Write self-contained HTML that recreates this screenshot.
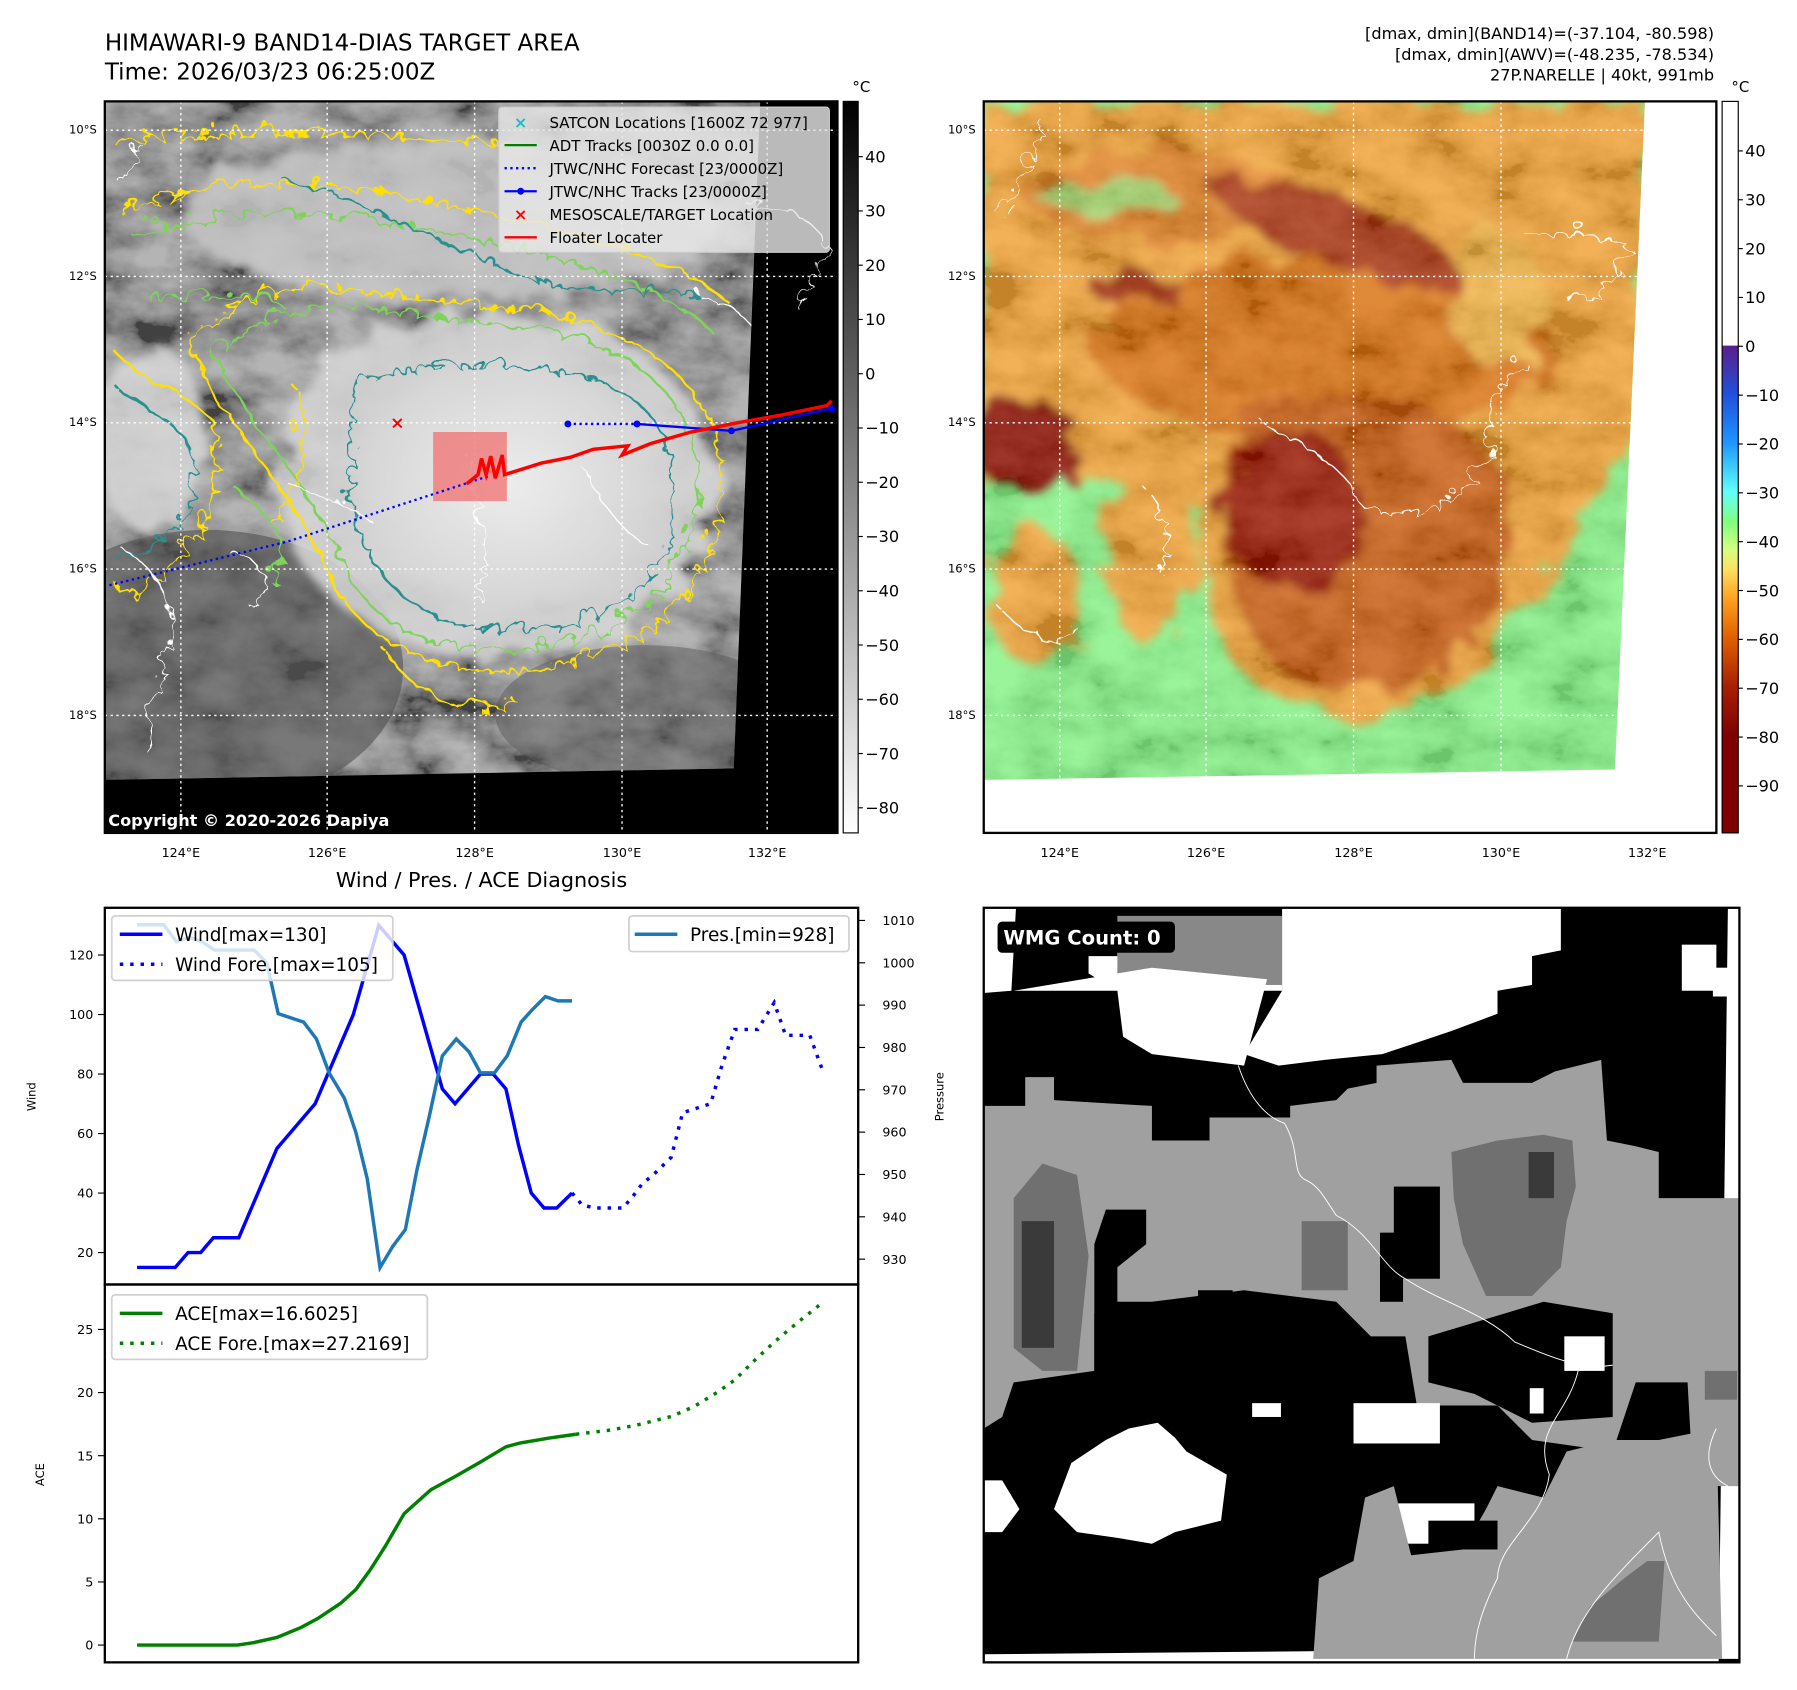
<!DOCTYPE html>
<html><head><meta charset="utf-8"><style>
html,body{margin:0;padding:0;background:#fff;}
svg{display:block;font-family:"DejaVu Sans","Liberation Sans",sans-serif;}
</style></head><body>
<svg id="fig" width="1797" height="1690" viewBox="0 0 1560 1467" preserveAspectRatio="none" xmlns="http://www.w3.org/2000/svg">
<defs>
 <filter id="noise" x="0" y="0" width="100%" height="100%">
  <feTurbulence type="fractalNoise" baseFrequency="0.018 0.03" numOctaves="5" seed="3"/>
  <feColorMatrix type="matrix" values="2 0 0 0 -0.5  2 0 0 0 -0.5  2 0 0 0 -0.5  0 0 0 0 1"/>
 </filter>
 <filter id="wob" x="-10%" y="-10%" width="120%" height="120%">
  <feTurbulence type="turbulence" baseFrequency="0.05" numOctaves="2" seed="7" result="t"/>
  <feDisplacementMap in="SourceGraphic" in2="t" scale="22"/>
 </filter>
 <filter id="blurwob" x="-10%" y="-10%" width="120%" height="120%">
  <feTurbulence type="fractalNoise" baseFrequency="0.03" numOctaves="3" seed="11" result="t"/>
  <feDisplacementMap in="SourceGraphic" in2="t" scale="40" result="d"/>
  <feGaussianBlur in="d" stdDeviation="4"/>
 </filter>
 <linearGradient id="cbGray" x1="0" y1="0" x2="0" y2="1">
  <stop offset="0" stop-color="#000"/><stop offset="1" stop-color="#fff"/>
 </linearGradient>
 <linearGradient id="cbColor" x1="0" y1="0" x2="0" y2="1">
  <stop offset="0" stop-color="#5a1e8c"/><stop offset="0.1" stop-color="#2050dc"/>
  <stop offset="0.2" stop-color="#1e96ff"/><stop offset="0.3" stop-color="#60ffff"/>
  <stop offset="0.36" stop-color="#80ff80"/><stop offset="0.42" stop-color="#d8ff80"/>
  <stop offset="0.46" stop-color="#ffe060"/><stop offset="0.52" stop-color="#ffa020"/>
  <stop offset="0.6" stop-color="#e06000"/><stop offset="0.7" stop-color="#a82000"/>
  <stop offset="0.8" stop-color="#800000"/><stop offset="1" stop-color="#800000"/>
 </linearGradient>
 <radialGradient id="core" cx="0.5" cy="0.5" r="0.5">
  <stop offset="0" stop-color="#f0f0f0"/><stop offset="0.7" stop-color="#d8d8d8"/><stop offset="1" stop-color="#d0d0d0" stop-opacity="0"/>
 </radialGradient>
 <clipPath id="leftImg"><polygon points="91,88 660,88 637,667 91,677"/></clipPath>
 <clipPath id="rightImg"><polygon points="854,88 1428,88 1402,668 854,677"/></clipPath>
 <clipPath id="wmgClip"><rect x="854" y="788" width="656" height="655"/></clipPath>
</defs>

<text x="91" y="44" font-size="20">HIMAWARI-9 BAND14-DIAS TARGET AREA</text>
<text x="91" y="69" font-size="20">Time: 2026/03/23 06:25:00Z</text>
<g font-size="14" text-anchor="end">
 <text x="1488" y="34">[dmax, dmin](BAND14)=(-37.104, -80.598)</text>
 <text x="1488" y="52">[dmax, dmin](AWV)=(-48.235, -78.534)</text>
 <text x="1488" y="70">27P.NARELLE | 40kt, 991mb</text>
</g>

<g>
 <rect x="91" y="88" width="636" height="635" fill="#000"/>
 <g clip-path="url(#leftImg)">
  <rect x="91" y="88" width="570" height="590" fill="#777"/>
  <rect x="91" y="88" width="570" height="590" filter="url(#noise)" opacity="0.45"/>
  <ellipse cx="180" cy="580" rx="170" ry="120" fill="#505050" opacity="0.6"/>
  <ellipse cx="560" cy="620" rx="130" ry="60" fill="#5a5a5a" opacity="0.5"/>
  <g filter="url(#blurwob)" opacity="0.85">
   <ellipse cx="390" cy="190" rx="230" ry="70" fill="#c8c8c8"/>
   <ellipse cx="430" cy="420" rx="190" ry="150" fill="#d8d8d8"/>
   <ellipse cx="130" cy="380" rx="50" ry="80" fill="#d8d8d8"/>
  </g>
  <ellipse cx="440" cy="420" rx="170" ry="140" fill="url(#core)" opacity="0.9"/>
  <g fill="none" stroke-width="2" filter="url(#wob)">
   <path d="M160,290 C220,220 330,250 420,260 C540,270 620,320 620,410 C620,520 540,580 420,575 C320,570 290,520 270,470 C230,400 180,350 160,290Z" stroke="#ffe000"/>
   <path d="M180,300 C240,240 340,265 420,275 C530,285 600,330 600,410 C600,510 530,560 420,558 C330,556 300,510 285,465 C250,400 200,350 180,300Z" stroke="#7ed35a"/>
   <path d="M300,330 C360,300 440,310 500,320 C570,340 585,390 580,440 C570,520 500,545 420,540 C340,535 310,480 300,430Z" stroke="#2a8f8f"/>
   <path d="M100,180 C180,140 300,150 420,180 C520,200 600,230 630,260" stroke="#ffe000"/>
   <path d="M110,200 C200,170 300,175 420,205 C520,225 590,255 620,290" stroke="#7ed35a"/>
   <path d="M240,150 C320,170 400,220 470,240 C520,250 560,245 600,250" stroke="#2a8f8f"/>
   <path d="M95,120 C200,100 330,110 440,120" stroke="#ffe000"/>
   <path d="M95,300 C120,330 150,330 180,360 C190,420 170,470 130,500 C110,520 95,510 95,500" stroke="#ffe000"/>
   <path d="M95,330 C120,350 150,360 165,390 C165,440 140,470 95,480" stroke="#2a8f8f"/>
   <path d="M250,330 C270,360 250,420 230,450" stroke="#ffe000"/>
   <path d="M330,560 C360,610 420,620 440,600" stroke="#ffe000"/>
   <path d="M120,250 C160,260 200,240 240,260" stroke="#7ed35a"/>
   <path d="M200,420 C230,440 250,470 230,500" stroke="#7ed35a"/>
  </g>
  <g fill="none" stroke="#fff" stroke-width="1.2" filter="url(#wob)">
   <path d="M100,470 C130,490 150,510 140,560 C130,600 120,620 125,650"/>
   <path d="M190,470 C220,480 240,500 210,520"/>
   <path d="M240,410 C260,420 300,430 320,450"/>
   <path d="M400,390 C410,420 420,470 410,520"/>
   <path d="M500,400 C520,440 540,460 560,470"/>
   <path d="M600,250 C640,260 650,280 660,300"/>
   <path d="M95,150 C110,140 115,130 118,120"/>
  </g>
 </g>
 <g fill="none" stroke="#fff" stroke-width="1.2" filter="url(#wob)">
  <path d="M640,170 C670,175 700,180 715,210 C700,240 680,250 690,265"/>
 </g>
 <g stroke="#fff" stroke-width="1.2" stroke-dasharray="2,3">
  <line x1="157" y1="88" x2="157" y2="723"/><line x1="284" y1="88" x2="284" y2="723"/>
  <line x1="412" y1="88" x2="412" y2="723"/><line x1="540" y1="88" x2="540" y2="723"/>
  <line x1="666" y1="88" x2="666" y2="723"/>
  <line x1="91" y1="113" x2="727" y2="113"/><line x1="91" y1="240" x2="727" y2="240"/>
  <line x1="91" y1="367" x2="727" y2="367"/><line x1="91" y1="494" x2="727" y2="494"/>
  <line x1="91" y1="621" x2="727" y2="621"/>
 </g>
 <rect x="376" y="375" width="64" height="60" fill="#f07070" opacity="0.75"/>
 <polyline points="95,508 250,470 425,413" fill="none" stroke="#0000ff" stroke-width="2" stroke-dasharray="2,3"/>
 <polyline points="493,368 553,368" fill="none" stroke="#0000ff" stroke-width="2" stroke-dasharray="2,3"/>
 <polyline points="553,368 635,374 720,355" fill="none" stroke="#0000ff" stroke-width="2"/>
 <g fill="#0000ff"><circle cx="493" cy="368" r="3"/><circle cx="553" cy="368" r="3"/><circle cx="635" cy="374" r="3"/><circle cx="722" cy="355" r="3"/></g>
 <polyline points="405,420 415,412 418,398 422,412 426,396 430,415 436,395 438,412 470,402 495,397 515,390 545,387 540,395 565,385 600,375 640,367 680,360 718,352 722,348" fill="none" stroke="#ff0000" stroke-width="3"/>
 <text x="345" y="372" font-size="15" fill="#ff0000" text-anchor="middle" font-weight="bold">×</text>
 <rect x="91" y="88" width="636" height="635" fill="none" stroke="#000" stroke-width="2"/>
 <g font-size="13">
  <rect x="433" y="93" width="287" height="126" rx="3" fill="#e8e8e8" fill-opacity="0.8" stroke="#ccc"/>
  <text x="452" y="111" fill="#17becf" font-size="14" text-anchor="middle" font-weight="bold">×</text>
  <text x="477" y="111">SATCON Locations [1600Z 72 977]</text>
  <line x1="438" y1="126" x2="466" y2="126" stroke="#008000" stroke-width="2"/>
  <text x="477" y="131">ADT Tracks [0030Z 0.0 0.0]</text>
  <line x1="438" y1="146" x2="466" y2="146" stroke="#0000ff" stroke-width="2" stroke-dasharray="2,3"/>
  <text x="477" y="151">JTWC/NHC Forecast [23/0000Z]</text>
  <line x1="438" y1="166" x2="466" y2="166" stroke="#0000ff" stroke-width="2"/><circle cx="452" cy="166" r="3" fill="#0000ff"/>
  <text x="477" y="171">JTWC/NHC Tracks [23/0000Z]</text>
  <text x="452" y="191" fill="#ff0000" font-size="14" text-anchor="middle" font-weight="bold">×</text>
  <text x="477" y="191">MESOSCALE/TARGET Location</text>
  <line x1="438" y1="206" x2="466" y2="206" stroke="#ff0000" stroke-width="2"/>
  <text x="477" y="211">Floater Locater</text>
 </g>
 <text x="94" y="717" font-size="14" font-weight="bold" fill="#fff">Copyright © 2020-2026 Dapiya</text>
</g>
<g>
 <rect x="732" y="88" width="13" height="635" fill="url(#cbGray)" stroke="#000" stroke-width="1"/>
 <text x="740" y="80" font-size="13">°C</text>
 <g font-size="14" id="cbL"></g>
</g>
<g font-size="10" text-anchor="end">
 <text x="84" y="116">10°S</text><text x="84" y="243">12°S</text><text x="84" y="370">14°S</text><text x="84" y="497">16°S</text><text x="84" y="624">18°S</text>
</g>
<g font-size="11" text-anchor="middle">
 <text x="157" y="744">124°E</text><text x="284" y="744">126°E</text><text x="412" y="744">128°E</text><text x="540" y="744">130°E</text><text x="666" y="744">132°E</text>
</g>

<g>
 <rect x="854" y="88" width="636" height="635" fill="#fff"/>
 <g clip-path="url(#rightImg)">
  <rect x="854" y="88" width="580" height="590" fill="#84f284"/>
  <g filter="url(#blurwob)">
   <path d="M854,88 L1430,88 L1430,330 C1400,420 1340,520 1300,560 C1260,620 1160,640 1100,600 C1050,570 1030,500 1050,450 C1000,420 950,400 854,420Z" fill="#f0a030"/>
   <ellipse cx="1000" cy="480" rx="40" ry="80" fill="#f0a030"/>
   <ellipse cx="900" cy="520" rx="40" ry="60" fill="#f0a030"/>
   <ellipse cx="1010" cy="170" rx="120" ry="40" fill="#e08020"/>
   <ellipse cx="1150" cy="300" rx="200" ry="80" fill="#d87010"/>
   <path d="M1060,400 C1100,330 1200,320 1280,380 C1330,420 1320,520 1270,560 C1230,600 1150,610 1110,580 C1080,550 1060,480 1060,400Z" fill="#c85a08"/>
   <ellipse cx="1160" cy="200" rx="110" ry="30" fill="#a83008" transform="rotate(20 1160 200)"/>
   <ellipse cx="1120" cy="440" rx="60" ry="70" fill="#9a1800"/>
   <ellipse cx="890" cy="385" rx="50" ry="40" fill="#8c1000"/>
   <ellipse cx="985" cy="250" rx="40" ry="15" fill="#9a2000"/>
   <ellipse cx="960" cy="170" rx="60" ry="14" fill="#84f284" opacity="0.7"/>
   <ellipse cx="1300" cy="260" rx="40" ry="60" fill="#f0b040"/>
  </g>
  <rect x="854" y="88" width="580" height="590" filter="url(#noise)" opacity="0.18"/>
 </g>
 <g fill="none" stroke="#fff" stroke-width="1.2" filter="url(#wob)">
  <path d="M860,180 C880,160 890,130 900,100"/>
  <path d="M1090,360 C1120,380 1150,390 1170,420 C1180,450 1190,430 1230,440 C1250,420 1280,420 1290,380 C1280,340 1300,320 1320,310"/>
  <path d="M1320,200 C1350,190 1380,200 1410,210 C1400,240 1380,260 1350,250"/>
  <path d="M990,420 C1010,440 1010,470 1000,490"/>
  <path d="M860,520 C880,540 900,560 930,540"/>
 </g>
 <g stroke="#fff" stroke-width="1.2" stroke-dasharray="2,3">
  <line x1="920" y1="88" x2="920" y2="723"/><line x1="1047" y1="88" x2="1047" y2="723"/>
  <line x1="1175" y1="88" x2="1175" y2="723"/><line x1="1303" y1="88" x2="1303" y2="723"/>
  <line x1="854" y1="113" x2="1490" y2="113"/><line x1="854" y1="240" x2="1490" y2="240"/>
  <line x1="854" y1="367" x2="1490" y2="367"/><line x1="854" y1="494" x2="1490" y2="494"/>
  <line x1="854" y1="621" x2="1490" y2="621"/>
 </g>
 <rect x="854" y="88" width="636" height="635" fill="none" stroke="#000" stroke-width="2"/>
</g>
<g>
 <rect x="1495" y="88" width="14" height="212" fill="#fff"/>
 <rect x="1495" y="300" width="14" height="423" fill="url(#cbColor)"/>
 <rect x="1495" y="88" width="14" height="635" fill="none" stroke="#000" stroke-width="1"/>
 <text x="1503" y="80" font-size="13">°C</text>
 <g font-size="14" id="cbR"></g>
</g>
<g font-size="10" text-anchor="end">
 <text x="847" y="116">10°S</text><text x="847" y="243">12°S</text><text x="847" y="370">14°S</text><text x="847" y="497">16°S</text><text x="847" y="624">18°S</text>
</g>
<g font-size="11" text-anchor="middle">
 <text x="920" y="744">124°E</text><text x="1047" y="744">126°E</text><text x="1175" y="744">128°E</text><text x="1303" y="744">130°E</text><text x="1430" y="744">132°E</text>
</g>

<text x="418" y="770" font-size="18" text-anchor="middle">Wind / Pres. / ACE Diagnosis</text>
<g id="windChart"></g>
<g id="aceChart"></g>
<rect x="91" y="788" width="654" height="327" fill="none" stroke="#000" stroke-width="2"/>
<rect x="91" y="1115" width="654" height="328" fill="none" stroke="#000" stroke-width="2"/>
<text x="31" y="952" font-size="10" transform="rotate(-90 31 952)" text-anchor="middle">Wind</text>
<text x="819" y="952" font-size="10" transform="rotate(-90 819 952)" text-anchor="middle">Pressure</text>
<text x="38" y="1280" font-size="10" transform="rotate(-90 38 1280)" text-anchor="middle">ACE</text>
<g font-size="16">
 <rect x="97" y="795" width="244" height="56" rx="3" fill="#fff" fill-opacity="0.8" stroke="#d0d0d0" stroke-width="1.5"/>
 <line x1="104" y1="811" x2="141" y2="811" stroke="#0000ff" stroke-width="3"/>
 <text x="152" y="817">Wind[max=130]</text>
 <line x1="104" y1="837" x2="141" y2="837" stroke="#0000ff" stroke-width="3" stroke-dasharray="3,6"/>
 <text x="152" y="843">Wind Fore.[max=105]</text>
</g>
<g font-size="16">
 <rect x="546" y="795" width="191" height="31" rx="3" fill="#fff" fill-opacity="0.8" stroke="#d0d0d0" stroke-width="1.5"/>
 <line x1="551" y1="811" x2="588" y2="811" stroke="#1f77b4" stroke-width="3"/>
 <text x="599" y="817">Pres.[min=928]</text>
</g>
<g font-size="16">
 <rect x="97" y="1124" width="274" height="56" rx="3" fill="#fff" fill-opacity="0.8" stroke="#d0d0d0" stroke-width="1.5"/>
 <line x1="104" y1="1140" x2="141" y2="1140" stroke="#008000" stroke-width="3"/>
 <text x="152" y="1146">ACE[max=16.6025]</text>
 <line x1="104" y1="1166" x2="141" y2="1166" stroke="#008000" stroke-width="3" stroke-dasharray="3,6"/>
 <text x="152" y="1172">ACE Fore.[max=27.2169]</text>
</g>

<g clip-path="url(#wmgClip)">
 <rect x="854" y="788" width="656" height="655" fill="#000"/>
 <polygon points="854,788 882,788 878,860 854,862" fill="#fff"/>
 <polygon points="1500,788 1510,788 1510,1440 1492,1440" fill="#fff"/>
 <polygon points="854,1436 1492,1430 1492,1443 854,1443" fill="#fff"/>
 <path d="M970,800 L1113,800 L1113,860 L1090,860 L1080,880 L1060,905 L1000,915 L975,900 L970,860 L945,845 L945,830 L970,830Z" fill="#fff"/>
 <rect x="970" y="795" width="143" height="60" fill="#888"/>
 <path d="M1113,788 L1355,788 L1355,825 L1330,830 L1330,855 L1300,860 L1300,880 L1260,895 L1230,905 L1200,915 L1150,920 L1110,925 L1080,915 L1113,860Z" fill="#fff"/>
 <path d="M880,860 L975,860 L1000,915 L1080,925 L1100,850 L1000,840Z" fill="#fff"/>
 <rect x="1460" y="820" width="30" height="40" fill="#fff"/>
 <rect x="1487" y="840" width="20" height="25" fill="#fff"/>
 <path d="M854,960 L890,960 L890,935 L915,935 L915,955 L1000,960 L1000,990 L1050,990 L1050,970 L1120,970 L1120,960 L1160,955 L1170,945 L1195,940 L1195,925 L1260,920 L1270,940 L1330,940 L1350,930 L1390,920 L1395,990 L1420,995 L1440,1000 L1440,1040 L1510,1040 L1510,1290 L1470,1290 L1465,1200 L1420,1200 L1400,1260 L1330,1250 L1300,1220 L1230,1220 L1220,1160 L1190,1160 L1160,1130 L1080,1120 L1000,1130 L960,1130 L950,1140 L950,1190 L880,1200 L870,1230 L854,1240Z" fill="#a0a0a0"/>
 <path d="M1240,1160 L1340,1130 L1400,1140 L1400,1230 L1330,1235 L1280,1210 L1240,1200Z" fill="#000"/>
 <path d="M960,1050 L995,1050 L995,1080 L970,1100 L970,1180 L950,1190 L950,1080Z" fill="#000"/>
 <rect x="1210" y="1030" width="40" height="80" fill="#000"/>
 <rect x="1040" y="1120" width="30" height="25" fill="#000"/>
 <rect x="1198" y="1070" width="20" height="60" fill="#000"/>
 <path d="M880,1040 L905,1010 L935,1020 L945,1090 L935,1190 L905,1190 L880,1170Z" fill="#707070"/>
 <rect x="887" y="1060" width="28" height="110" fill="#3a3a3a"/>
 <path d="M1260,1000 L1300,990 L1340,985 L1365,990 L1368,1030 L1360,1060 L1355,1100 L1330,1125 L1290,1125 L1270,1080 L1262,1040Z" fill="#707070"/>
 <rect x="1327" y="1000" width="22" height="40" fill="#3a3a3a"/>
 <rect x="1130" y="1060" width="40" height="60" fill="#707070"/>
 <path d="M930,1270 L960,1250 L980,1240 L1005,1235 L1020,1248 L1030,1260 L1065,1280 L1060,1320 L1020,1330 L1000,1340 L970,1335 L935,1330 L915,1310Z" fill="#fff"/>
 <rect x="1175" y="1218" width="75" height="35" fill="#fff"/>
 <rect x="1087" y="1218" width="25" height="12" fill="#fff"/>
 <rect x="1205" y="1305" width="75" height="35" fill="#fff"/>
 <rect x="1358" y="1160" width="35" height="30" fill="#fff"/>
 <rect x="1328" y="1205" width="12" height="22" fill="#fff"/>
 <path d="M854,1285 L870,1285 L885,1310 L870,1330 L854,1330Z" fill="#fff"/>
 <path d="M1140,1440 L1145,1370 L1175,1355 L1185,1300 L1210,1290 L1225,1350 L1270,1345 L1290,1310 L1300,1290 L1340,1300 L1360,1260 L1400,1250 L1440,1250 L1490,1240 L1495,1440Z" fill="#a0a0a0"/>
 <rect x="1240" y="1320" width="60" height="25" fill="#000"/>
 <path d="M1365,1425 L1380,1395 L1410,1370 L1430,1355 L1445,1355 L1440,1425Z" fill="#707070"/>
 <rect x="1480" y="1190" width="28" height="25" fill="#707070"/>
 <g fill="none" stroke="#fff" stroke-width="0.8">
  <path d="M1075,925 C1085,955 1100,970 1115,975 C1130,1000 1120,1020 1135,1025 C1145,1030 1150,1040 1160,1055 C1190,1070 1200,1100 1220,1110 C1250,1130 1290,1140 1315,1165 C1340,1175 1370,1190 1400,1185"/>
  <path d="M1370,1190 C1360,1230 1330,1240 1345,1280 C1340,1320 1300,1340 1300,1370 C1285,1400 1280,1420 1280,1440"/>
  <path d="M1490,1240 C1480,1260 1480,1280 1500,1290"/>
  <path d="M1360,1440 C1370,1400 1400,1370 1440,1330 C1450,1380 1470,1400 1490,1420"/>
 </g>
</g>
<rect x="854" y="788" width="656" height="655" fill="none" stroke="#000" stroke-width="2"/>
<g>
 <rect x="866" y="800" width="154" height="27" rx="4" fill="#000"/>
 <text x="871" y="820" font-size="17" font-weight="bold" fill="#fff">WMG Count: 0</text>
</g>

<script>
var windObsT = [0,3,4,5,6,8,11,14,17,19,21,24,25,27,28,29,30,31,32,33,34.2];
var windObsV = [15,15,20,20,25,25,55,70,100,130,120,75,70,80,80,75,56,40,35,35,40];
var windFcstT = [34.2,35,36,38.2,39,39.7,40.8,42,42.9,45.1,46,47,48.8,50.1,51,52.9,54];
var windFcstV = [40,36,35,35,39,43,47,52,67,70,83,95,95,104,93,93,80];
var presT = [0,2.1,3.1,4.1,5.1,6.1,9.2,10.2,11.1,13.1,14.1,15.1,16.3,17.2,18.1,19.1,20.1,21.1,22,23,24,25.1,26.1,27,28.1,29.1,30.2,31.1,32.1,33.1,34.2];
var presV = [1009,1009,1005,1006,1005,1003,1003,1000,988,986,982,974,968,960,949,928,933,937,951,964,978,982,979,974,974,978,986,989,992,991,991];
var aceObsT = [0,7.9,9.2,11,12.9,14.2,16,17.2,18.3,19.5,21,23.1,25.1,27,29,30.1,32.4,34.5];
var aceObsV = [0,0,0.2,0.6,1.4,2.1,3.3,4.4,5.9,7.8,10.4,12.3,13.4,14.5,15.7,16,16.4,16.7];
var aceFcstT = [34.5,37,39.2,42,43.8,45.6,47,48.3,50.1,52,54];
var aceFcstV = [16.7,17,17.4,18.1,18.9,20,21,22.3,24,25.6,27.2];
var windTicks = [20,40,60,80,100,120];
var presTicks = [930,940,950,960,970,980,990,1000,1010];
var aceTicks = [0,5,10,15,20,25];
var cbLeftTicks = [40,30,20,10,0,-10,-20,-30,-40,-50,-60,-70,-80];
var cbRightTicks = [40,30,20,10,0,-10,-20,-30,-40,-50,-60,-70,-80,-90];

var NS = "http://www.w3.org/2000/svg";
function xT(t){ return 119 + t * 11.04; }
function yW(v){ return 829 + (120 - v) * 2.583; }
function yP(p){ return 799 + (1010 - p) * 3.675; }
function yA(a){ return 1428 - a * 10.96; }
function yCL(v){ return 136 + (40 - v) * 4.71; }
function yCR(v){ return 131 + (40 - v) * 4.24; }
function mk(tag, attrs, parent){
  var e = document.createElementNS(NS, tag);
  for (var k in attrs) e.setAttribute(k, attrs[k]);
  parent.appendChild(e); return e;
}
function pts(ts, vs, fy){ return ts.map(function(t,i){ return xT(t).toFixed(1)+","+fy(vs[i]).toFixed(1); }).join(" "); }

var wc = document.getElementById("windChart");
var ac = document.getElementById("aceChart");
windTicks.forEach(function(v){
  var g = mk("g", {}, wc);
  
  
  mk("line", {x1:85, x2:91, y1:yW(v), y2:yW(v), stroke:"#000"}, g);
  var t = mk("text", {x:81, y:yW(v)+4, "font-size":11, "text-anchor":"end"}, g); t.textContent = v;
});
presTicks.forEach(function(v){
  var g = mk("g", {}, wc);
  
  
  mk("line", {x1:745, x2:751, y1:yP(v), y2:yP(v), stroke:"#000"}, g);
  var t = mk("text", {x:766, y:yP(v)+4, "font-size":11}, g); t.textContent = v;
});
aceTicks.forEach(function(v){
  var g = mk("g", {}, ac);
  
  
  mk("line", {x1:85, x2:91, y1:yA(v), y2:yA(v), stroke:"#000"}, g);
  var t = mk("text", {x:81, y:yA(v)+4, "font-size":11, "text-anchor":"end"}, g); t.textContent = v;
});
var l;
l = mk("polyline", {points:pts(windObsT, windObsV, yW), fill:"none", stroke:"#0000ff", "stroke-width":3}, wc);


l = mk("polyline", {points:pts(windFcstT, windFcstV, yW), fill:"none", stroke:"#0000ff", "stroke-width":3, "stroke-dasharray":"3,6"}, wc);


l = mk("polyline", {points:pts(presT, presV, yP), fill:"none", stroke:"#1f77b4", "stroke-width":3}, wc);


l = mk("polyline", {points:pts(aceObsT, aceObsV, yA), fill:"none", stroke:"#008000", "stroke-width":3}, ac);


l = mk("polyline", {points:pts(aceFcstT, aceFcstV, yA), fill:"none", stroke:"#008000", "stroke-width":3, "stroke-dasharray":"3,6"}, ac);



var cl = document.getElementById("cbL");
cbLeftTicks.forEach(function(v){
  mk("line", {x1:745, x2:749, y1:yCL(v), y2:yCL(v), stroke:"#000"}, cl);
  var t = mk("text", {x:751, y:yCL(v)+5}, cl);
  
  
  t.textContent = (v < 0 ? "\u2212" + (-v) : v);
});
var cr = document.getElementById("cbR");
cbRightTicks.forEach(function(v){
  mk("line", {x1:1509, x2:1513, y1:yCR(v), y2:yCR(v), stroke:"#000"}, cr);
  var t = mk("text", {x:1515, y:yCR(v)+5}, cr);
  
  
  t.textContent = (v < 0 ? "\u2212" + (-v) : v);
});
</script>
</svg>
</body></html>
